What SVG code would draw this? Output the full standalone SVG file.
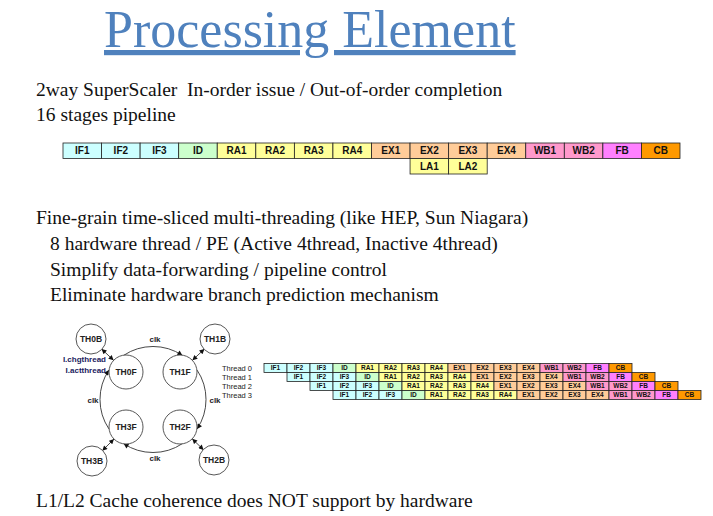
<svg xmlns="http://www.w3.org/2000/svg" width="713" height="516" viewBox="0 0 713 516">
<style>
.title{font-family:"Liberation Serif","Times New Roman",serif;font-size:52px;fill:#4F81BD;text-decoration:underline}
.body{font-family:"Liberation Serif","Times New Roman",serif;font-size:19.5px;fill:#111;white-space:pre}
.c{stroke:#222;stroke-width:0.8}
.if{fill:#CCFFFF}.id{fill:#CCFFCC}.ra{fill:#FFFF99}.ex{fill:#FFCC99}.wb{fill:#FF99CC}.fb{fill:#FF80FF}.cb{fill:#FF9900}
.pt{font-family:"Liberation Sans",Arial,sans-serif;font-size:10px;font-weight:bold;fill:#111;text-anchor:middle}
.tt{font-family:"Liberation Sans",Arial,sans-serif;font-size:6.5px;font-weight:bold;fill:#111;text-anchor:middle}
.tl{font-family:"Liberation Sans",Arial,sans-serif;font-size:7.5px;fill:#222}
.node circle{fill:#fff;stroke:#444;stroke-width:0.9}
.nl{font-family:"Liberation Sans",Arial,sans-serif;font-size:8.5px;font-weight:bold;fill:#222;text-anchor:middle}
.clk{font-family:"Liberation Sans",Arial,sans-serif;font-size:8px;font-weight:bold;fill:#222;text-anchor:middle}
.sig{font-family:"Liberation Sans",Arial,sans-serif;font-size:8px;font-weight:bold;fill:#1a1a5e;text-anchor:end}
.conn path{fill:none;stroke:#333;stroke-width:0.9}
</style>
<defs>
<marker id="ah" viewBox="0 0 10 10" refX="10" refY="5" markerWidth="6" markerHeight="5" orient="auto-start-reverse" markerUnits="userSpaceOnUse"><path d="M0,0 L10,5 L0,10 z" fill="#111"/></marker>
</defs>
<rect width="713" height="516" fill="#fff"/>

<text class="title" x="104" y="47">Processing Element</text>
<text class="body" x="36" y="96">2way SuperScaler  In-order issue / Out-of-order completion</text>
<text class="body" x="36" y="121">16 stages pipeline</text>
<text class="body" x="36" y="224">Fine-grain time-sliced multi-threading (like HEP, Sun Niagara)</text>
<text class="body" x="50" y="250">8 hardware thread / PE (Active 4thread, Inactive 4thread)</text>
<text class="body" x="50" y="276">Simplify data-forwarding / pipeline control</text>
<text class="body" x="50" y="301">Eliminate hardware branch prediction mechanism</text>
<text class="body" x="36" y="507">L1/L2 Cache coherence does NOT support by hardware</text>

<g id="pipeline" transform="translate(63,143)">
<rect class="c if" x="0" y="0" width="38.56" height="15.5"/><text class="pt" x="19.28" y="11.2">IF1</text>
<rect class="c if" x="38.56" y="0" width="38.56" height="15.5"/><text class="pt" x="57.84" y="11.2">IF2</text>
<rect class="c if" x="77.13" y="0" width="38.56" height="15.5"/><text class="pt" x="96.41" y="11.2">IF3</text>
<rect class="c id" x="115.69" y="0" width="38.56" height="15.5"/><text class="pt" x="134.97" y="11.2">ID</text>
<rect class="c ra" x="154.25" y="0" width="38.56" height="15.5"/><text class="pt" x="173.53" y="11.2">RA1</text>
<rect class="c ra" x="192.81" y="0" width="38.56" height="15.5"/><text class="pt" x="212.09" y="11.2">RA2</text>
<rect class="c ra" x="231.38" y="0" width="38.56" height="15.5"/><text class="pt" x="250.66" y="11.2">RA3</text>
<rect class="c ra" x="269.94" y="0" width="38.56" height="15.5"/><text class="pt" x="289.22" y="11.2">RA4</text>
<rect class="c ex" x="308.5" y="0" width="38.56" height="15.5"/><text class="pt" x="327.78" y="11.2">EX1</text>
<rect class="c ex" x="347.06" y="0" width="38.56" height="15.5"/><text class="pt" x="366.34" y="11.2">EX2</text>
<rect class="c ex" x="385.63" y="0" width="38.56" height="15.5"/><text class="pt" x="404.91" y="11.2">EX3</text>
<rect class="c ex" x="424.19" y="0" width="38.56" height="15.5"/><text class="pt" x="443.47" y="11.2">EX4</text>
<rect class="c wb" x="462.75" y="0" width="38.56" height="15.5"/><text class="pt" x="482.03" y="11.2">WB1</text>
<rect class="c wb" x="501.31" y="0" width="38.56" height="15.5"/><text class="pt" x="520.59" y="11.2">WB2</text>
<rect class="c fb" x="539.88" y="0" width="38.56" height="15.5"/><text class="pt" x="559.16" y="11.2">FB</text>
<rect class="c cb" x="578.44" y="0" width="38.56" height="15.5"/><text class="pt" x="597.72" y="11.2">CB</text>
<rect class="c ra" x="347.06" y="15.5" width="38.56" height="15.5"/><text class="pt" x="366.34" y="26.7">LA1</text>
<rect class="c ra" x="385.63" y="15.5" width="38.56" height="15.5"/><text class="pt" x="404.91" y="26.7">LA2</text>
</g>

<g id="thread-labels">
<text class="tl" x="222" y="370.8">Thread 0</text>
<text class="tl" x="222" y="379.8">Thread 1</text>
<text class="tl" x="222" y="388.8">Thread 2</text>
<text class="tl" x="222" y="397.8">Thread 3</text>
</g>

<g id="thread0" transform="translate(264,363.5)">
<rect class="c if" x="0" width="23" height="9"/><text class="tt" x="11.5" y="6.8">IF1</text>
<rect class="c if" x="23" width="23" height="9"/><text class="tt" x="34.5" y="6.8">IF2</text>
<rect class="c if" x="46" width="23" height="9"/><text class="tt" x="57.5" y="6.8">IF3</text>
<rect class="c id" x="69" width="23" height="9"/><text class="tt" x="80.5" y="6.8">ID</text>
<rect class="c ra" x="92" width="23" height="9"/><text class="tt" x="103.5" y="6.8">RA1</text>
<rect class="c ra" x="115" width="23" height="9"/><text class="tt" x="126.5" y="6.8">RA2</text>
<rect class="c ra" x="138" width="23" height="9"/><text class="tt" x="149.5" y="6.8">RA3</text>
<rect class="c ra" x="161" width="23" height="9"/><text class="tt" x="172.5" y="6.8">RA4</text>
<rect class="c ex" x="184" width="23" height="9"/><text class="tt" x="195.5" y="6.8">EX1</text>
<rect class="c ex" x="207" width="23" height="9"/><text class="tt" x="218.5" y="6.8">EX2</text>
<rect class="c ex" x="230" width="23" height="9"/><text class="tt" x="241.5" y="6.8">EX3</text>
<rect class="c ex" x="253" width="23" height="9"/><text class="tt" x="264.5" y="6.8">EX4</text>
<rect class="c wb" x="276" width="23" height="9"/><text class="tt" x="287.5" y="6.8">WB1</text>
<rect class="c wb" x="299" width="23" height="9"/><text class="tt" x="310.5" y="6.8">WB2</text>
<rect class="c fb" x="322" width="23" height="9"/><text class="tt" x="333.5" y="6.8">FB</text>
<rect class="c cb" x="345" width="23" height="9"/><text class="tt" x="356.5" y="6.8">CB</text>
</g>
<g id="thread1" transform="translate(287,372.5)">
<rect class="c if" x="0" width="23" height="9"/><text class="tt" x="11.5" y="6.8">IF1</text>
<rect class="c if" x="23" width="23" height="9"/><text class="tt" x="34.5" y="6.8">IF2</text>
<rect class="c if" x="46" width="23" height="9"/><text class="tt" x="57.5" y="6.8">IF3</text>
<rect class="c id" x="69" width="23" height="9"/><text class="tt" x="80.5" y="6.8">ID</text>
<rect class="c ra" x="92" width="23" height="9"/><text class="tt" x="103.5" y="6.8">RA1</text>
<rect class="c ra" x="115" width="23" height="9"/><text class="tt" x="126.5" y="6.8">RA2</text>
<rect class="c ra" x="138" width="23" height="9"/><text class="tt" x="149.5" y="6.8">RA3</text>
<rect class="c ra" x="161" width="23" height="9"/><text class="tt" x="172.5" y="6.8">RA4</text>
<rect class="c ex" x="184" width="23" height="9"/><text class="tt" x="195.5" y="6.8">EX1</text>
<rect class="c ex" x="207" width="23" height="9"/><text class="tt" x="218.5" y="6.8">EX2</text>
<rect class="c ex" x="230" width="23" height="9"/><text class="tt" x="241.5" y="6.8">EX3</text>
<rect class="c ex" x="253" width="23" height="9"/><text class="tt" x="264.5" y="6.8">EX4</text>
<rect class="c wb" x="276" width="23" height="9"/><text class="tt" x="287.5" y="6.8">WB1</text>
<rect class="c wb" x="299" width="23" height="9"/><text class="tt" x="310.5" y="6.8">WB2</text>
<rect class="c fb" x="322" width="23" height="9"/><text class="tt" x="333.5" y="6.8">FB</text>
<rect class="c cb" x="345" width="23" height="9"/><text class="tt" x="356.5" y="6.8">CB</text>
</g>
<g id="thread2" transform="translate(310,381.5)">
<rect class="c if" x="0" width="23" height="9"/><text class="tt" x="11.5" y="6.8">IF1</text>
<rect class="c if" x="23" width="23" height="9"/><text class="tt" x="34.5" y="6.8">IF2</text>
<rect class="c if" x="46" width="23" height="9"/><text class="tt" x="57.5" y="6.8">IF3</text>
<rect class="c id" x="69" width="23" height="9"/><text class="tt" x="80.5" y="6.8">ID</text>
<rect class="c ra" x="92" width="23" height="9"/><text class="tt" x="103.5" y="6.8">RA1</text>
<rect class="c ra" x="115" width="23" height="9"/><text class="tt" x="126.5" y="6.8">RA2</text>
<rect class="c ra" x="138" width="23" height="9"/><text class="tt" x="149.5" y="6.8">RA3</text>
<rect class="c ra" x="161" width="23" height="9"/><text class="tt" x="172.5" y="6.8">RA4</text>
<rect class="c ex" x="184" width="23" height="9"/><text class="tt" x="195.5" y="6.8">EX1</text>
<rect class="c ex" x="207" width="23" height="9"/><text class="tt" x="218.5" y="6.8">EX2</text>
<rect class="c ex" x="230" width="23" height="9"/><text class="tt" x="241.5" y="6.8">EX3</text>
<rect class="c ex" x="253" width="23" height="9"/><text class="tt" x="264.5" y="6.8">EX4</text>
<rect class="c wb" x="276" width="23" height="9"/><text class="tt" x="287.5" y="6.8">WB1</text>
<rect class="c wb" x="299" width="23" height="9"/><text class="tt" x="310.5" y="6.8">WB2</text>
<rect class="c fb" x="322" width="23" height="9"/><text class="tt" x="333.5" y="6.8">FB</text>
<rect class="c cb" x="345" width="23" height="9"/><text class="tt" x="356.5" y="6.8">CB</text>
</g>
<g id="thread3" transform="translate(333,390.5)">
<rect class="c if" x="0" width="23" height="9"/><text class="tt" x="11.5" y="6.8">IF1</text>
<rect class="c if" x="23" width="23" height="9"/><text class="tt" x="34.5" y="6.8">IF2</text>
<rect class="c if" x="46" width="23" height="9"/><text class="tt" x="57.5" y="6.8">IF3</text>
<rect class="c id" x="69" width="23" height="9"/><text class="tt" x="80.5" y="6.8">ID</text>
<rect class="c ra" x="92" width="23" height="9"/><text class="tt" x="103.5" y="6.8">RA1</text>
<rect class="c ra" x="115" width="23" height="9"/><text class="tt" x="126.5" y="6.8">RA2</text>
<rect class="c ra" x="138" width="23" height="9"/><text class="tt" x="149.5" y="6.8">RA3</text>
<rect class="c ra" x="161" width="23" height="9"/><text class="tt" x="172.5" y="6.8">RA4</text>
<rect class="c ex" x="184" width="23" height="9"/><text class="tt" x="195.5" y="6.8">EX1</text>
<rect class="c ex" x="207" width="23" height="9"/><text class="tt" x="218.5" y="6.8">EX2</text>
<rect class="c ex" x="230" width="23" height="9"/><text class="tt" x="241.5" y="6.8">EX3</text>
<rect class="c ex" x="253" width="23" height="9"/><text class="tt" x="264.5" y="6.8">EX4</text>
<rect class="c wb" x="276" width="23" height="9"/><text class="tt" x="287.5" y="6.8">WB1</text>
<rect class="c wb" x="299" width="23" height="9"/><text class="tt" x="310.5" y="6.8">WB2</text>
<rect class="c fb" x="322" width="23" height="9"/><text class="tt" x="333.5" y="6.8">FB</text>
<rect class="c cb" x="345" width="23" height="9"/><text class="tt" x="356.5" y="6.8">CB</text>
</g>

<g class="conn" id="connectors">
<path d="M123.6,355.4 A53,53 0 0 1 182.4,355.4" marker-end="url(#ah)"/>
<path d="M197.1,370.1 A53,53 0 0 1 197.1,428.9" marker-end="url(#ah)"/>
<path d="M182.4,443.6 A53,53 0 0 1 123.6,443.6" marker-end="url(#ah)"/>
<path d="M108.9,428.9 A53,53 0 0 1 108.9,370.1" marker-end="url(#ah)"/>
<path d="M101.6,349 L113.6,360.3" marker-start="url(#ah)" marker-end="url(#ah)"/>
<path d="M204.4,349 L192.4,360.3" marker-start="url(#ah)" marker-end="url(#ah)"/>
<path d="M192.2,438.8 L203.6,449.9" marker-start="url(#ah)" marker-end="url(#ah)"/>
<path d="M114,439 L102.3,450.7" marker-start="url(#ah)" marker-end="url(#ah)"/>
</g>

<g id="clk-labels">
<text class="clk" x="155" y="342">clk</text>
<text class="clk" x="215" y="403">clk</text>
<text class="clk" x="155" y="461">clk</text>
<text class="clk" x="93" y="403">clk</text>
<text class="sig" x="106" y="362">I.chgthread</text>
<text class="sig" x="106" y="373">I.actthread</text>
</g>

<g class="node" id="TH0B"><circle cx="91" cy="339" r="15"/><text class="nl" x="91" y="342">TH0B</text></g>
<g class="node" id="TH1B"><circle cx="215" cy="339" r="15"/><text class="nl" x="215" y="342">TH1B</text></g>
<g class="node" id="TH2B"><circle cx="214" cy="460" r="15"/><text class="nl" x="214" y="463">TH2B</text></g>
<g class="node" id="TH3B"><circle cx="92" cy="461" r="15"/><text class="nl" x="92" y="464">TH3B</text></g>
<g class="node" id="TH0F"><circle cx="126" cy="372" r="17"/><text class="nl" x="126" y="375">TH0F</text></g>
<g class="node" id="TH1F"><circle cx="180" cy="372" r="17"/><text class="nl" x="180" y="375">TH1F</text></g>
<g class="node" id="TH2F"><circle cx="180" cy="427" r="17"/><text class="nl" x="180" y="430">TH2F</text></g>
<g class="node" id="TH3F"><circle cx="126" cy="427" r="17"/><text class="nl" x="126" y="430">TH3F</text></g>
</svg>
